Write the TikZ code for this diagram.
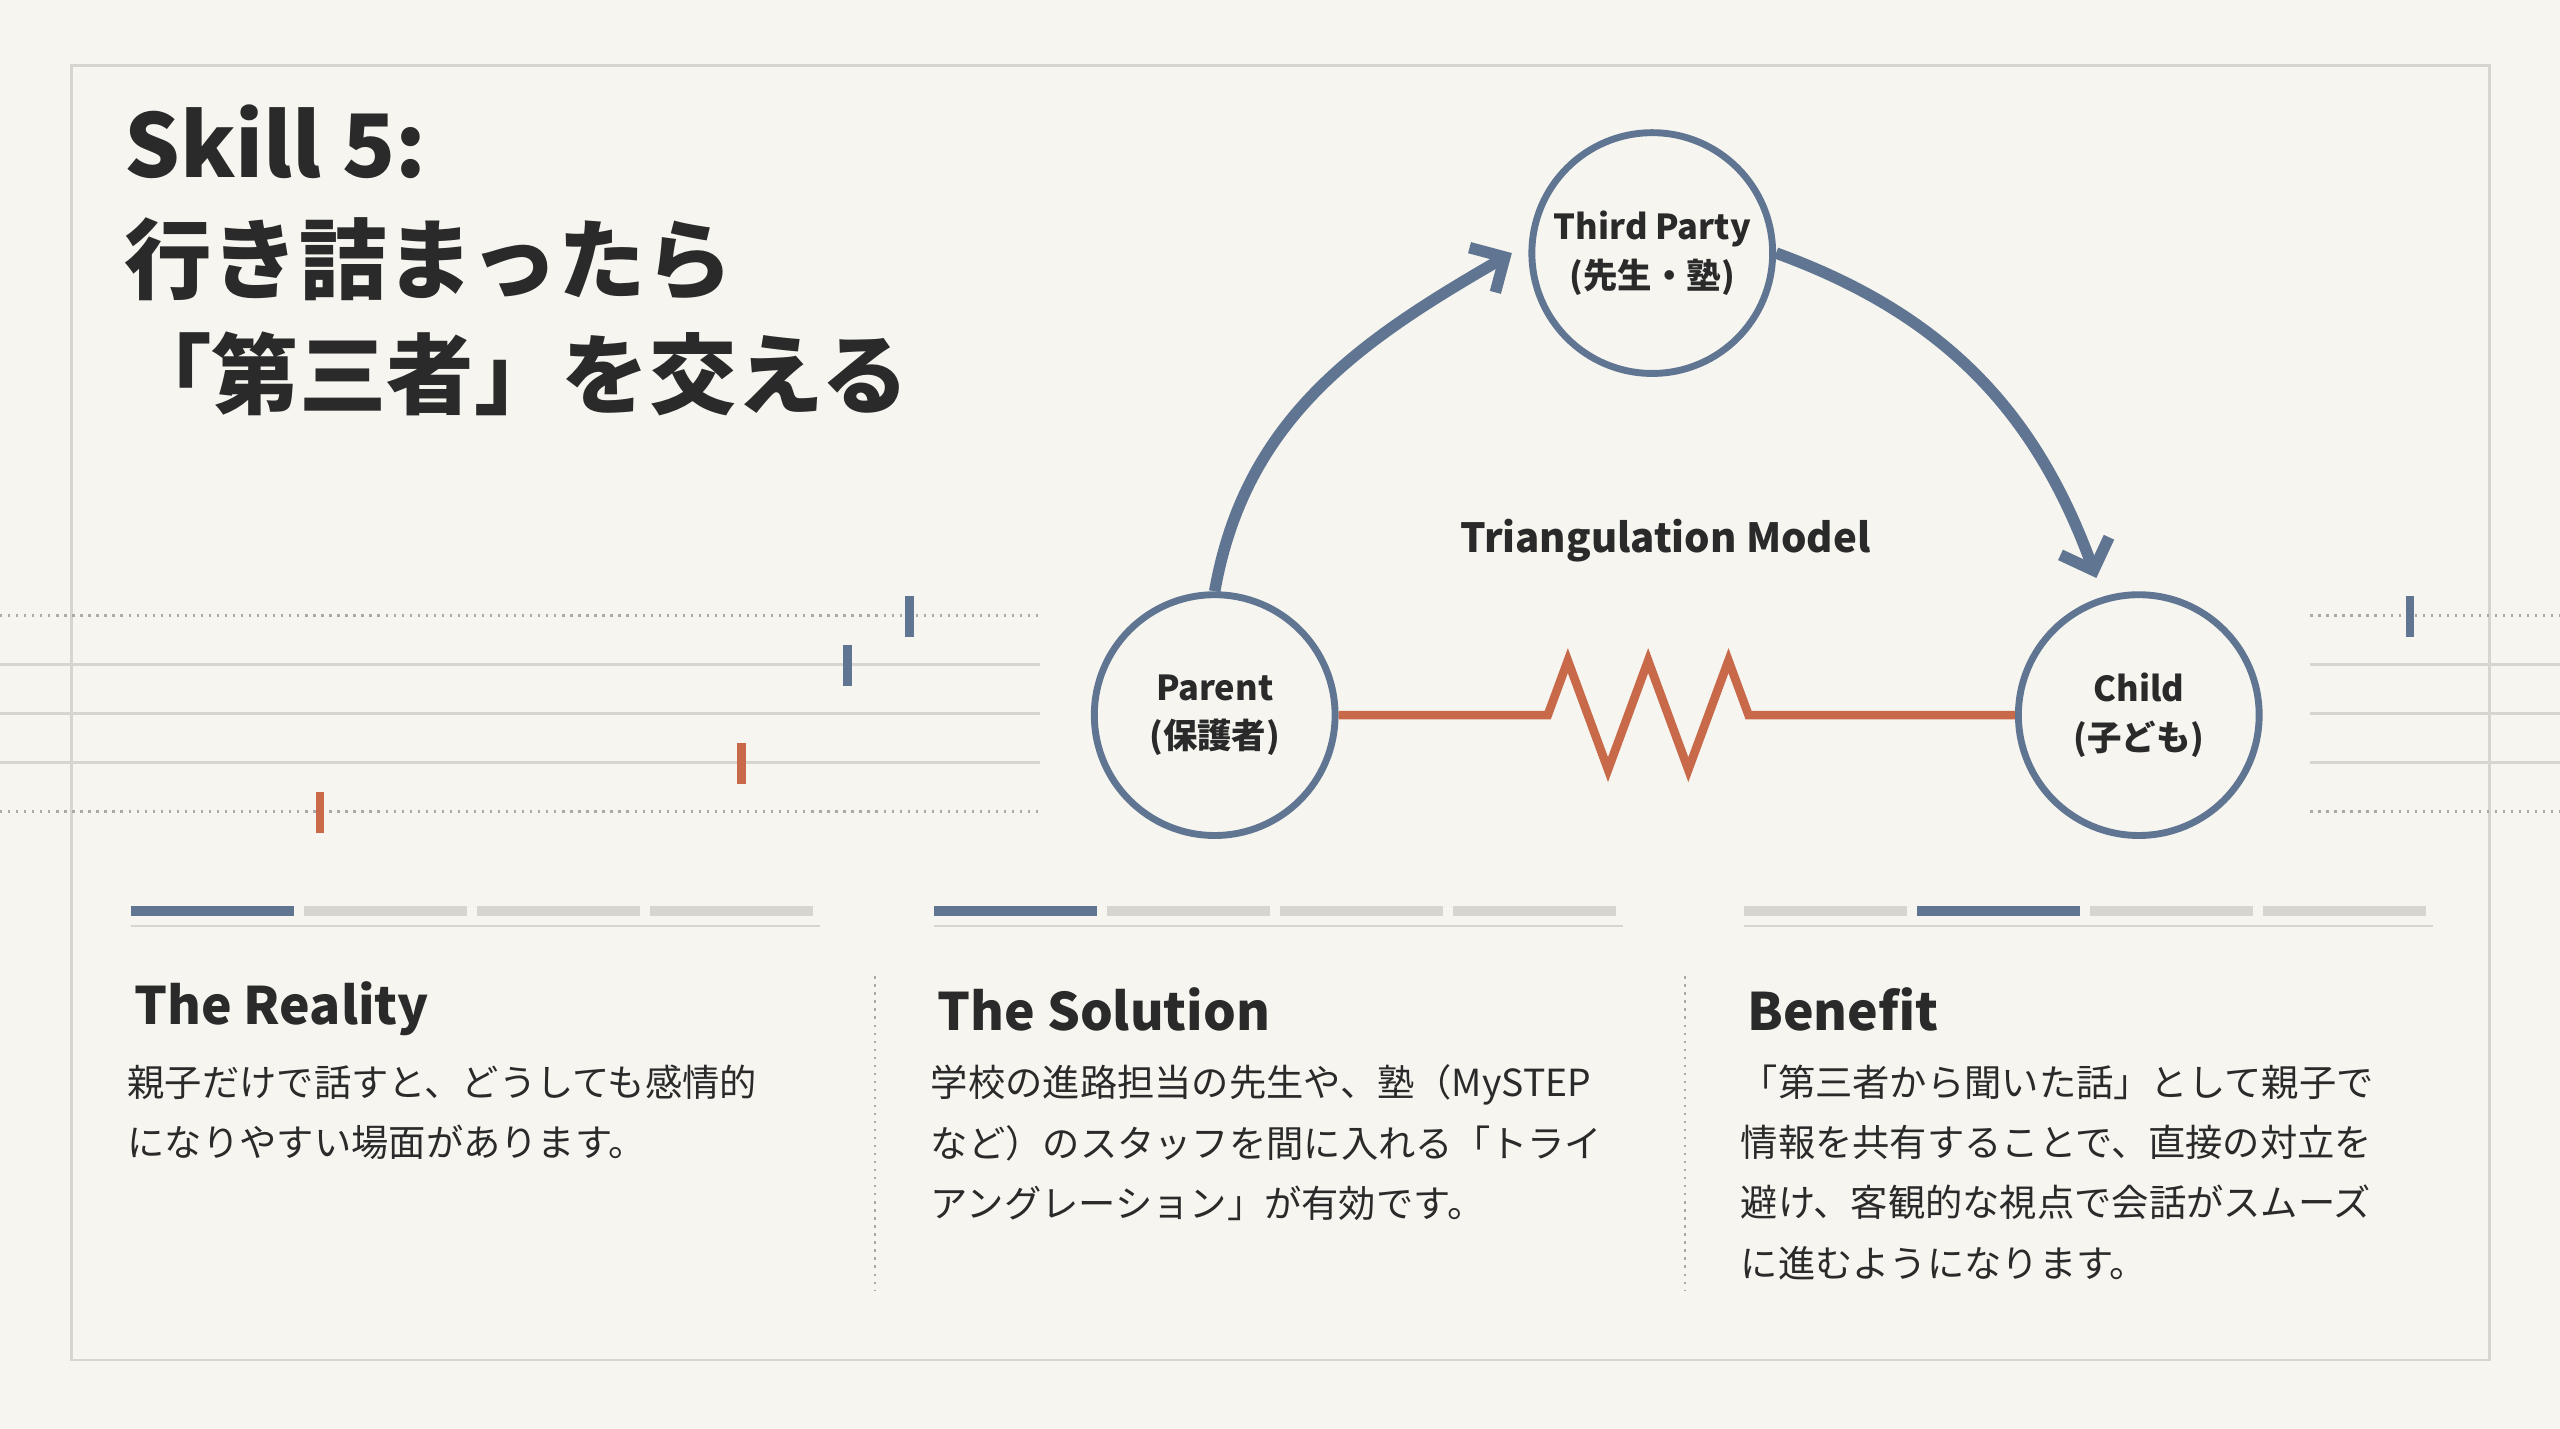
\documentclass[tikz,border=0pt]{standalone}
\usepackage{fontspec}
\setmainfont{Noto Sans CJK JP}
\usetikzlibrary{arrows.meta,decorations.pathmorphing}
\definecolor{bg}{HTML}{F6F5F0}
\definecolor{ink}{HTML}{2A2A2A}
\definecolor{slate}{HTML}{5F7591}
\definecolor{rust}{HTML}{C8694A}
\definecolor{rule}{HTML}{D6D5D0}
\begin{document}
\begin{tikzpicture}[x=0.02cm,y=-0.02cm,
  party/.style={circle,draw=slate,line width=2.4pt,fill=bg,minimum size=2.95cm,align=center,font=\fontsize{12}{17}\selectfont\bfseries,text=ink},
  flow/.style={draw=slate,line width=4pt,-{Straight Barb[length=9pt,width=18pt]}},
  head/.style={anchor=west,font=\fontsize{18}{22}\selectfont\bfseries,text=ink},
  body/.style={anchor=north west,align=left,font=\fontsize{13}{21}\selectfont,text=ink},
  guide/.style={draw=rule,line width=0.8pt},
  dots/.style={draw=rule!80!black,line width=0.8pt,dotted},
  tick/.style={line width=3pt}]
\useasboundingbox[fill=bg] (0,0) rectangle (1568,875);
\draw[rule,line width=1pt] (44,40) rectangle (1525,833);
% title
\node[anchor=north west,align=left,text=ink,font=\fontsize{30.5}{40}\selectfont\bfseries] (title) at (70,58)
  {Skill 5:\\行き詰まったら\\「第三者」を交える};
% guide lines
\foreach \y in {407,437,467} {
  \draw[guide] (0,\y) -- (637,\y);
  \draw[guide] (1415,\y) -- (1568,\y);
}
\foreach \y in {377,497} {
  \draw[dots] (0,\y) -- (637,\y);
  \draw[dots] (1415,\y) -- (1568,\y);
}
\draw[tick,slate] (557,365) -- (557,390);
\draw[tick,slate] (519,395) -- (519,420);
\draw[tick,slate] (1476,365) -- (1476,390);
\draw[tick,rust] (454,455) -- (454,480);
\draw[tick,rust] (196,485) -- (196,510);
% model
\node[party] (third) at (1012,155) {Third Party\\(先生・塾)};
\node[party] (parent) at (744,438) {Parent\\(保護者)};
\node[party] (child) at (1310,438) {Child\\(子ども)};
\node[text=ink,font=\fontsize{14}{16}\selectfont\bfseries] (model) at (1020,331) {Triangulation Model};
\coordinate (tip1) at (926,155);
\coordinate (tip2) at (1284,354);
\draw[flow] (parent.north) to[out=80,in=210] (tip1);
\draw[flow] (third.east) to[out=-20,in=110] (tip2);
\coordinate (z1) at (948,438);
\coordinate (z2) at (1085,438);
\draw[rust,line width=3pt] (parent.east) -- (z1)
  decorate[decoration={zigzag,segment length=28,amplitude=19}]{-- (z2)} -- (child.west);
% columns
\foreach \x/\k in {80/1,572/1,1068/2} {
  \draw[guide] (\x,567) -- ++(422,0);
  \foreach \i in {1,...,4} {
    \pgfmathsetmacro\sx{\x+(\i-1)*106}
    \ifnum\i=\k
      \fill[slate] (\sx,555) rectangle ++(100,6);
    \else
      \fill[rule] (\sx,555) rectangle ++(100,6);
    \fi
  }
}
\draw[dots] (536,598) -- (536,790);
\draw[dots] (1032,598) -- (1032,790);
\node[head] (reality) at (76,618) {The Reality};
\node[head] (solution) at (568,618) {The Solution};
\node[head] (benefit) at (1064,618) {Benefit};
\node[body] (t1) at (72,646) {親子だけで話すと、どうしても感情的\\になりやすい場面があります。};
\node[body] (t2) at (564,646) {学校の進路担当の先生や、塾（MySTEP\\など）のスタッフを間に入れる「トライ\\アングレーション」が有効です。};
\node[body] (t3) at (1060,646) {「第三者から聞いた話」として親子で\\情報を共有することで、直接の対立を\\避け、客観的な視点で会話がスムーズ\\に進むようになります。};
\end{tikzpicture}
\end{document}
